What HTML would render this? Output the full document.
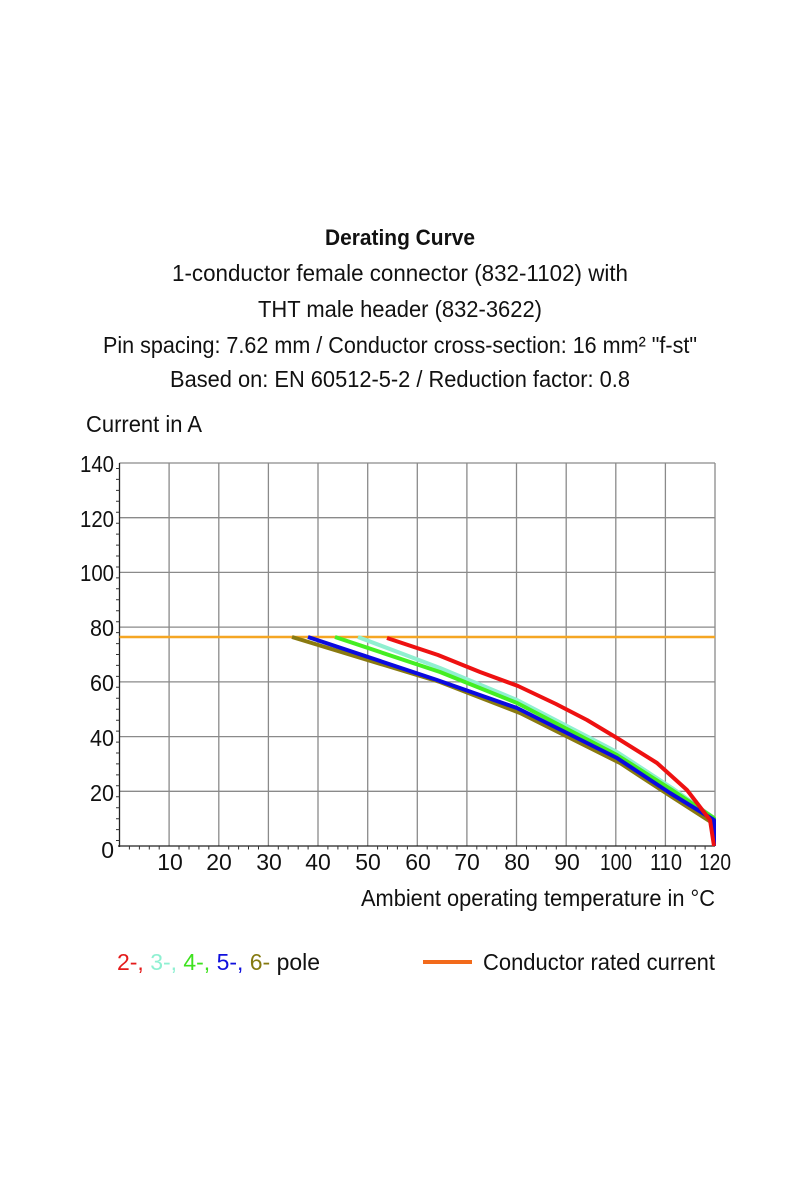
<!DOCTYPE html>
<html><head><meta charset="utf-8"><style>
html,body{margin:0;padding:0;background:#fff;width:800px;height:1200px;overflow:hidden}
svg{display:block}
text{font-family:"Liberation Sans Narrow","Liberation Sans",sans-serif;fill:#111}
</style></head><body>
<svg width="800" height="1200" viewBox="0 0 800 1200" xmlns="http://www.w3.org/2000/svg">
<g font-size="23">
<text x="325" y="245" font-weight="bold" font-size="22" textLength="150" lengthAdjust="spacingAndGlyphs">Derating Curve</text>
<text x="172" y="281" textLength="456" lengthAdjust="spacingAndGlyphs">1-conductor female connector (832-1102) with</text>
<text x="258" y="317" textLength="284" lengthAdjust="spacingAndGlyphs">THT male header (832-3622)</text>
<text x="103" y="353" textLength="594" lengthAdjust="spacingAndGlyphs">Pin spacing: 7.62 mm / Conductor cross-section: 16 mm² "f-st"</text>
<text x="170" y="387" textLength="460" lengthAdjust="spacingAndGlyphs">Based on: EN 60512-5-2 / Reduction factor: 0.8</text>
<text x="86" y="432" textLength="116" lengthAdjust="spacingAndGlyphs">Current in A</text>
</g>
<g stroke="#8a8a8a" stroke-width="1.3">
<line x1="119.5" y1="463" x2="715" y2="463"/><line x1="119.5" y1="517.7" x2="715" y2="517.7"/>
<line x1="119.5" y1="572.4" x2="715" y2="572.4"/><line x1="119.5" y1="627.1" x2="715" y2="627.1"/>
<line x1="119.5" y1="681.9" x2="715" y2="681.9"/><line x1="119.5" y1="736.6" x2="715" y2="736.6"/>
<line x1="119.5" y1="791.3" x2="715" y2="791.3"/>
<line x1="169.1" y1="463" x2="169.1" y2="846"/><line x1="218.8" y1="463" x2="218.8" y2="846"/>
<line x1="268.4" y1="463" x2="268.4" y2="846"/><line x1="318" y1="463" x2="318" y2="846"/>
<line x1="367.7" y1="463" x2="367.7" y2="846"/><line x1="417.3" y1="463" x2="417.3" y2="846"/>
<line x1="466.9" y1="463" x2="466.9" y2="846"/><line x1="516.5" y1="463" x2="516.5" y2="846"/>
<line x1="566.2" y1="463" x2="566.2" y2="846"/><line x1="615.8" y1="463" x2="615.8" y2="846"/>
<line x1="665.4" y1="463" x2="665.4" y2="846"/><line x1="715" y1="463" x2="715" y2="846"/>
</g>
<g stroke="#222" stroke-width="1.3">
<line x1="119.5" y1="463" x2="119.5" y2="847"/><line x1="118" y1="846" x2="715" y2="846"/>
</g>
<g stroke="#333" stroke-width="1">
<path d="M116 468.5h3.5M116 479.4h3.5M116 490.4h3.5M116 501.3h3.5M116 512.2h3.5M116 523.2h3.5M116 534.1h3.5M116 545.1h3.5M116 556h3.5M116 567h3.5M116 577.9h3.5M116 588.8h3.5M116 599.8h3.5M116 610.7h3.5M116 621.7h3.5M116 632.6h3.5M116 643.6h3.5M116 654.5h3.5M116 665.4h3.5M116 676.4h3.5M116 687.3h3.5M116 698.3h3.5M116 709.2h3.5M116 720.2h3.5M116 731.1h3.5M116 742.1h3.5M116 753h3.5M116 763.9h3.5M116 774.9h3.5M116 785.8h3.5M116 796.8h3.5M116 807.7h3.5M116 818.7h3.5M116 829.6h3.5M116 840.5h3.5"/>
<path d="M129.4 846v3.5M139.4 846v3.5M149.3 846v3.5M159.2 846v3.5M179 846v3.5M189 846v3.5M198.9 846v3.5M208.8 846v3.5M228.7 846v3.5M238.6 846v3.5M248.5 846v3.5M258.5 846v3.5M278.3 846v3.5M288.2 846v3.5M298.2 846v3.5M308.1 846v3.5M327.9 846v3.5M337.9 846v3.5M347.8 846v3.5M357.7 846v3.5M377.6 846v3.5M387.5 846v3.5M397.4 846v3.5M407.4 846v3.5M427.2 846v3.5M437.1 846v3.5M447.1 846v3.5M457 846v3.5M476.8 846v3.5M486.8 846v3.5M496.7 846v3.5M506.6 846v3.5M526.5 846v3.5M536.4 846v3.5M546.3 846v3.5M556.3 846v3.5M576.1 846v3.5M586 846v3.5M596 846v3.5M605.9 846v3.5M625.7 846v3.5M635.7 846v3.5M645.6 846v3.5M655.5 846v3.5M675.3 846v3.5M685.3 846v3.5M695.2 846v3.5M705.1 846v3.5"/>
</g>
<g font-size="23" text-anchor="end">
<text x="114" y="472" textLength="34" lengthAdjust="spacingAndGlyphs">140</text><text x="114" y="527" textLength="34" lengthAdjust="spacingAndGlyphs">120</text><text x="114" y="581" textLength="34" lengthAdjust="spacingAndGlyphs">100</text>
<text x="114" y="636" textLength="24" lengthAdjust="spacingAndGlyphs">80</text><text x="114" y="691" textLength="24" lengthAdjust="spacingAndGlyphs">60</text><text x="114" y="746" textLength="24" lengthAdjust="spacingAndGlyphs">40</text>
<text x="114" y="801" textLength="24" lengthAdjust="spacingAndGlyphs">20</text><text x="114" y="858">0</text>
</g>
<g font-size="23" text-anchor="middle">
<text x="170" y="870">10</text><text x="219" y="870">20</text><text x="269" y="870">30</text>
<text x="318" y="870">40</text><text x="368" y="870">50</text><text x="418" y="870">60</text>
<text x="467" y="870">70</text><text x="517" y="870">80</text><text x="567" y="870">90</text>
<text x="616" y="870" textLength="32" lengthAdjust="spacingAndGlyphs">100</text><text x="666" y="870" textLength="32" lengthAdjust="spacingAndGlyphs">110</text><text x="715" y="870" textLength="32" lengthAdjust="spacingAndGlyphs">120</text>
</g>
<text x="361" y="906" font-size="23" textLength="354" lengthAdjust="spacingAndGlyphs">Ambient operating temperature in °C</text>
<line x1="119.5" y1="637" x2="715" y2="637" stroke="#f5a623" stroke-width="2.5"/>
<g fill="none" stroke-width="4" stroke-linejoin="round">
<polyline stroke="#8a7a10" points="292,637 440,682 520,713 620,763 672,797 714,824 714,846"/>
<polyline stroke="#90f0d0" points="358,637 440,668 517,700 617,752 672,788 714,818"/>
<polyline stroke="#44ee22" points="335,637 440,672 517,703 617,755 672,790 714,818 714,846"/>
<polyline stroke="#0a0ae0" points="308,637 437,680 517,708 617,758 670,793 714,820 714,846"/>
<polyline stroke="#ee1111" points="387,638 438,655 480,672 518,686 556,704 587,720 617,738 657,763 687,790 710,820 714,846"/>
</g>
<g font-size="23">
<text x="117" y="970" textLength="203" lengthAdjust="spacingAndGlyphs"><tspan style="fill:#e41b1b">2-,</tspan> <tspan style="fill:#8ff0d2">3-,</tspan> <tspan style="fill:#3ee21e">4-,</tspan> <tspan style="fill:#1010dd">5-,</tspan> <tspan style="fill:#857a10">6-</tspan>  pole</text>
<text x="483" y="970" textLength="232" lengthAdjust="spacingAndGlyphs">Conductor rated current</text>
</g>
<line x1="423" y1="962" x2="472" y2="962" stroke="#f26a1b" stroke-width="4"/>
</svg>
</body></html>
